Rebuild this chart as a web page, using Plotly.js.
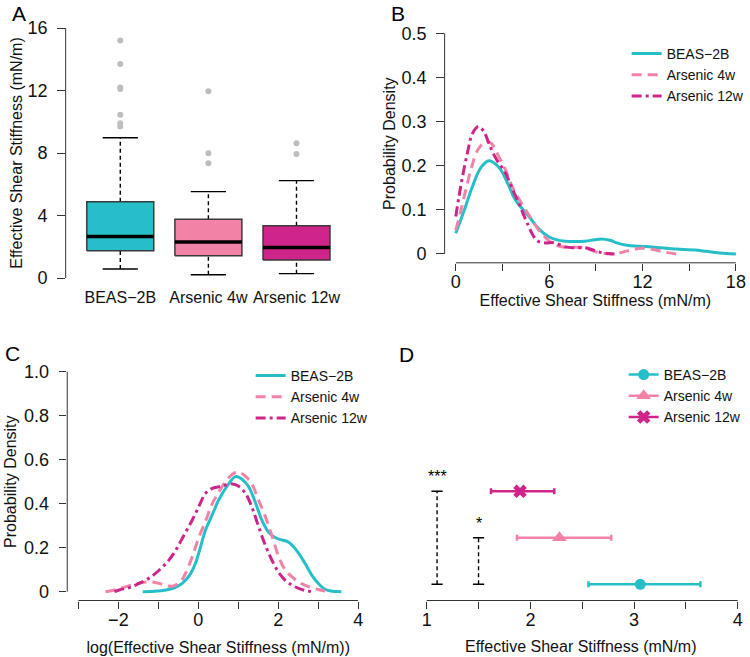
<!DOCTYPE html>
<html>
<head>
<meta charset="utf-8">
<script src="https://cdn.plot.ly/plotly-3.0.1.min.js"></script>
<style>html,body{margin:0;padding:0;background:#fff;}#chart{width:750px;height:657px;}</style>
</head>
<body>
<div id="chart"></div>
<script>
// ---------- data ----------
var groups = ['BEAS\u22122B', 'Arsenic 4w', 'Arsenic 12w'];
var colors = ['#26BFC9', '#F283A7', '#CF2489'];

// Panel A: box plot summary statistics (mN/m)
var boxPos     = [1, 2, 3];
var boxLowW    = [0.58, 0.21, 0.28];
var boxQ1      = [1.75, 1.43, 1.15];
var boxMedian  = [2.65, 2.30, 1.96];
var boxQ3      = [4.88, 3.76, 3.35];
var boxHighW   = [8.98, 5.53, 6.23];
var outBEAS    = [15.2, 13.7, 12.2, 12.1, 10.45, 9.9, 9.7];
var out4w      = [11.95, 7.98, 7.34];
var out12w     = [8.62, 7.94];

// Panel B: density of effective shear stiffness
var bBeasX = [0, 0.5, 1.07, 1.6, 2.13, 2.8, 3.4, 3.84, 4.7, 5.3, 5.97, 6.5, 7.04, 7.7, 8.3, 8.9, 9.38, 9.9, 10.45, 11.0, 11.5, 12.0, 12.6, 13.2, 13.9, 14.6, 15.35, 16.1, 16.8, 17.4, 18];
var bBeasY = [0.047, 0.095, 0.153, 0.195, 0.211, 0.195, 0.155, 0.122, 0.085, 0.058, 0.039, 0.032, 0.029, 0.028, 0.029, 0.032, 0.034, 0.031, 0.024, 0.020, 0.018, 0.017, 0.016, 0.014, 0.012, 0.010, 0.009, 0.006, 0.003, 0.001, 0.0];
var b4wX = [0, 0.3, 0.64, 1.0, 1.4, 1.92, 2.3, 2.77, 3.2, 3.62, 4.05, 4.48, 4.9, 5.33, 5.8, 6.2, 6.6, 7.04, 7.6, 8.1, 8.6, 9.17, 9.6, 10.0, 10.5, 10.9, 11.4, 11.9, 12.4, 13.0, 13.6, 14.2];
var b4wY = [0.054, 0.095, 0.145, 0.195, 0.235, 0.255, 0.25, 0.22, 0.19, 0.153, 0.125, 0.1, 0.077, 0.054, 0.036, 0.024, 0.018, 0.015, 0.015, 0.015, 0.01, 0.003, 0.001, 0.0, 0.002, 0.006, 0.010, 0.013, 0.012, 0.008, 0.003, 0.0];
var b12wX = [0, 0.2, 0.43, 0.75, 1.07, 1.45, 1.8, 2.13, 2.6, 3.2, 3.6, 4.05, 4.4, 4.69, 5.0, 5.33, 5.8, 6.2, 6.6, 7.04, 7.6, 8.3, 8.9, 9.38, 9.8, 10.2];
var b12wY = [0.085, 0.13, 0.175, 0.23, 0.273, 0.289, 0.278, 0.25, 0.215, 0.183, 0.15, 0.115, 0.085, 0.062, 0.04, 0.028, 0.025, 0.026, 0.022, 0.016, 0.014, 0.014, 0.008, 0.003, 0.001, 0.0];

// Panel C: density of log(effective shear stiffness)
var cBeasX = [-1.39, -1.1, -0.81, -0.6, -0.40, -0.2, -0.07, 0.05, 0.18, 0.35, 0.51, 0.72, 0.93, 1.1, 1.26, 1.42, 1.59, 1.76, 1.93, 2.1, 2.26, 2.45, 2.67, 2.84, 3.0, 3.17, 3.35, 3.58];
var cBeasY = [0, 0.002, 0.008, 0.018, 0.038, 0.08, 0.129, 0.2, 0.28, 0.35, 0.417, 0.48, 0.523, 0.51, 0.477, 0.41, 0.326, 0.27, 0.245, 0.235, 0.225, 0.19, 0.129, 0.075, 0.038, 0.011, 0.002, 0];
var c4wX = [-2.32, -2.0, -1.64, -1.4, -1.15, -0.9, -0.65, -0.45, -0.32, -0.15, 0.02, 0.2, 0.35, 0.52, 0.68, 0.83, 0.97, 1.15, 1.34, 1.5, 1.68, 1.85, 2.01, 2.17, 2.34, 2.55, 2.76, 3.0, 3.25];
var c4wY = [0, 0.012, 0.032, 0.042, 0.044, 0.034, 0.025, 0.045, 0.083, 0.16, 0.25, 0.33, 0.40, 0.455, 0.5, 0.53, 0.545, 0.53, 0.49, 0.42, 0.34, 0.25, 0.159, 0.1, 0.068, 0.04, 0.023, 0.01, 0];
var c12wX = [-2.1, -1.98, -1.7, -1.48, -1.2, -0.98, -0.75, -0.56, -0.35, -0.15, 0.02, 0.18, 0.35, 0.51, 0.68, 0.85, 1.0, 1.18, 1.35, 1.51, 1.68, 1.84, 2.0, 2.17, 2.34, 2.51, 2.68, 2.84];
var c12wY = [0, 0.008, 0.02, 0.038, 0.065, 0.098, 0.14, 0.19, 0.26, 0.326, 0.39, 0.447, 0.47, 0.477, 0.485, 0.49, 0.48, 0.447, 0.38, 0.295, 0.21, 0.144, 0.09, 0.053, 0.03, 0.015, 0.005, 0];

// Panel D: mean and confidence interval
var dRow    = [1, 2, 3];
var dMean   = [3.06, 2.28, 1.90];
var dLow    = [2.56, 1.87, 1.62];
var dHigh   = [3.64, 2.78, 2.23];
var dSymbol = ['circle', 'triangle-up', 'x'];
var sigX    = [1.1, 1.5];
var sigFrom = [1, 1];
var sigTo   = [3, 2];
var sigText = ['***', '*'];

// tick labels
var aTickVals = [0, 4, 8, 12, 16];
var bXTicks = [0, 3, 6, 9, 12, 15, 18];
var bXText  = ['0', '', '6', '', '12', '', '18'];
var bYTicks = [0, 0.1, 0.2, 0.3, 0.4, 0.5];
var bYText  = ['0', '0.1', '0.2', '0.3', '0.4', '0.5'];
var cXTicks = [-3, -2, -1, 0, 1, 2, 3, 4];
var cXText  = ['', '\u22122', '', '0', '', '2', '', '4'];
var cYTicks = [0, 0.2, 0.4, 0.6, 0.8, 1.0];
var cYText  = ['0', '0.2', '0.4', '0.6', '0.8', '1.0'];
var dXTicks = [1, 1.5, 2, 2.5, 3, 3.5, 4];
var dXText  = ['1', '', '2', '', '3', '', '4'];

// ---------- traces ----------
var FONT = 'Liberation Sans, Arial, Helvetica, sans-serif';
var AX = '#333333';
var traces = [];
var halfW = 0.38, capW = 0.2;

// Panel A
var outs = [outBEAS, out4w, out12w];
for (var i = 0; i < groups.length; i++) {
  var p = boxPos[i];
  traces.push({x: [p, p], y: [boxQ3[i], boxHighW[i]], xaxis: 'x', yaxis: 'y', mode: 'lines',
    line: {color: '#000', width: 1.4, dash: '4px,3px'}, showlegend: false, hoverinfo: 'skip'});
  traces.push({x: [p, p], y: [boxLowW[i], boxQ1[i]], xaxis: 'x', yaxis: 'y', mode: 'lines',
    line: {color: '#000', width: 1.4, dash: '4px,3px'}, showlegend: false, hoverinfo: 'skip'});
  traces.push({x: [p - capW, p + capW], y: [boxHighW[i], boxHighW[i]], xaxis: 'x', yaxis: 'y', mode: 'lines',
    line: {color: '#000', width: 1.4}, showlegend: false, hoverinfo: 'skip'});
  traces.push({x: [p - capW, p + capW], y: [boxLowW[i], boxLowW[i]], xaxis: 'x', yaxis: 'y', mode: 'lines',
    line: {color: '#000', width: 1.4}, showlegend: false, hoverinfo: 'skip'});
  traces.push({x: [p - halfW, p + halfW, p + halfW, p - halfW, p - halfW],
    y: [boxQ1[i], boxQ1[i], boxQ3[i], boxQ3[i], boxQ1[i]], xaxis: 'x', yaxis: 'y',
    mode: 'lines', fill: 'toself', fillcolor: colors[i], line: {color: '#3a3a3a', width: 1.5},
    showlegend: false, name: groups[i]});
  traces.push({x: [p - halfW, p + halfW], y: [boxMedian[i], boxMedian[i]], xaxis: 'x', yaxis: 'y',
    mode: 'lines', line: {color: '#000', width: 3.5}, showlegend: false, hoverinfo: 'skip'});
  traces.push({x: outs[i].map(function () { return p; }), y: outs[i], xaxis: 'x', yaxis: 'y',
    mode: 'markers', marker: {color: '#BEBEBE', size: 6}, showlegend: false});
}

// Panels B and C
var dashes = ['solid', '10px,6px', '10px,4px,3px,4px'];
var bX = [bBeasX, b4wX, b12wX], bY = [bBeasY, b4wY, b12wY];
var cX = [cBeasX, c4wX, c12wX], cY = [cBeasY, c4wY, c12wY];
for (var j = 0; j < 3; j++) {
  traces.push({x: bX[j], y: bY[j], xaxis: 'x2', yaxis: 'y2', mode: 'lines', name: groups[j],
    line: {color: colors[j], width: 3, dash: dashes[j], shape: 'spline', smoothing: 1},
    legend: 'legend'});
}
for (var k = 0; k < 3; k++) {
  traces.push({x: cX[k], y: cY[k], xaxis: 'x3', yaxis: 'y3', mode: 'lines', name: groups[k],
    line: {color: colors[k], width: 3, dash: dashes[k], shape: 'spline', smoothing: 1},
    legend: 'legend2'});
}

// Panel D significance lines
for (var s = 0; s < sigX.length; s++) {
  traces.push({x: [sigX[s], sigX[s]], y: [sigFrom[s], sigTo[s]], xaxis: 'x4', yaxis: 'y4',
    mode: 'lines+markers', line: {color: '#000', width: 1.4, dash: '4px,3px'},
    marker: {symbol: 'line-ew', size: 8, line: {color: '#000', width: 1.4}},
    showlegend: false, hoverinfo: 'skip'});
}
// Panel D means with intervals
for (var m = 0; m < 3; m++) {
  traces.push({x: [dMean[m]], y: [dRow[m]], xaxis: 'x4', yaxis: 'y4', mode: 'lines+markers',
    name: groups[m], legend: 'legend3',
    line: {color: colors[m], width: 2.5},
    marker: {color: colors[m], symbol: dSymbol[m], size: dSymbol[m] === 'triangle-up' ? 13 : (dSymbol[m] === 'x' ? 12 : 11)},
    error_x: {type: 'data', symmetric: false, array: [dHigh[m] - dMean[m]], arrayminus: [dMean[m] - dLow[m]],
      color: colors[m], thickness: 2.5, width: 3}});
}

// ---------- layout ----------
function ax(extra) {
  var base = {showgrid: false, zeroline: false, showline: false, ticks: 'outside', ticklen: 7.5,
    tickcolor: AX, tickwidth: 1, tickfont: {family: FONT, size: 18, color: '#111'},
    ticklabelstandoff: -5, fixedrange: true};
  for (var key in extra) base[key] = extra[key];
  return base;
}
var titleFont = {family: FONT, size: 16, color: '#111'};

var annotations = [
  {text: 'A', x: 10 / 750, y: 1 - 0 / 657, xref: 'paper', yref: 'paper', xanchor: 'left', yanchor: 'top', showarrow: false, font: {family: FONT, size: 21, color: '#000'}},
  {text: 'B', x: 391 / 750, y: 1 - 0 / 657, xref: 'paper', yref: 'paper', xanchor: 'left', yanchor: 'top', showarrow: false, font: {family: FONT, size: 21, color: '#000'}},
  {text: 'C', x: 3 / 750, y: 1 - 340 / 657, xref: 'paper', yref: 'paper', xanchor: 'left', yanchor: 'top', showarrow: false, font: {family: FONT, size: 21, color: '#000'}},
  {text: 'D', x: 399 / 750, y: 1 - 341 / 657, xref: 'paper', yref: 'paper', xanchor: 'left', yanchor: 'top', showarrow: false, font: {family: FONT, size: 21, color: '#000'}},
  // x-axis title of panel D
  {text: 'Effective Shear Stiffness (mN/m)', x: 0.5, y: 1 - 646 / 657, xref: 'x4 domain', yref: 'paper',
    xanchor: 'center', yanchor: 'middle', showarrow: false, font: titleFont}
];
for (var t = 0; t < sigX.length; t++) {
  annotations.push({text: sigText[t], x: sigX[t], y: sigTo[t], xref: 'x4', yref: 'y4', yanchor: 'bottom',
    yshift: 4, showarrow: false, font: {family: FONT, size: 16, color: '#000'}});
}

var shapes = [
  {type: 'line', xref: 'x domain', yref: 'y', x0: 0, x1: 0, y0: 0, y1: 16, line: {color: AX, width: 1}},
  {type: 'line', xref: 'x2 domain', yref: 'y2', x0: 0, x1: 0, y0: 0, y1: 0.5, line: {color: AX, width: 1}},
  {type: 'line', xref: 'x2', yref: 'y2 domain', x0: 0, x1: 18, y0: 0, y1: 0, line: {color: AX, width: 1}},
  {type: 'line', xref: 'x3 domain', yref: 'y3', x0: 0, x1: 0, y0: 0, y1: 1, line: {color: AX, width: 1}},
  {type: 'line', xref: 'x3', yref: 'y3 domain', x0: -3, x1: 4, y0: 0, y1: 0, line: {color: AX, width: 1}},
  {type: 'line', xref: 'x4', yref: 'y4 domain', x0: 1, x1: 4, y0: 0, y1: 0, line: {color: AX, width: 1}}
];

var legendBase = {bgcolor: 'rgba(0,0,0,0)', borderwidth: 0, font: {family: FONT, size: 14, color: '#111'},
  xanchor: 'left', yanchor: 'top', tracegroupgap: 0, itemclick: false, itemdoubleclick: false};
function leg(x, y) { var o = {}; for (var k in legendBase) o[k] = legendBase[k]; o.x = x; o.y = y; return o; }

var layout = {
  width: 750, height: 657,
  margin: {l: 0, r: 0, t: 0, b: 0},
  paper_bgcolor: '#fff', plot_bgcolor: '#fff',
  font: {family: FONT, color: '#111'},
  showlegend: true,
  legend: leg(630 / 750, 1 - 38 / 657),
  legend2: leg(252 / 750, 1 - 360 / 657),
  legend3: leg(627 / 750, 1 - 359 / 657),
  xaxis: ax({domain: [66 / 750, 353 / 750], range: [0.38, 3.62], ticks: '', tickvals: boxPos, ticktext: groups,
    tickfont: {family: FONT, size: 16, color: '#111'}, ticklabelstandoff: -2, anchor: 'y'}),
  yaxis: ax({domain: [1 - 288 / 657, 1 - 18 / 657], range: [-0.64, 16.64], tickvals: aTickVals, anchor: 'x',
    ticklabelstandoff: 6,
    title: {text: 'Effective Shear Stiffness (mN/m)', font: titleFont, standoff: 0}}),
  xaxis2: ax({domain: [447 / 750, 1], range: [-0.72, 18.65], tickvals: bXTicks, ticktext: bXText, anchor: 'y2',
    title: {text: 'Effective Shear Stiffness (mN/m)', font: titleFont, standoff: 0}}),
  yaxis2: ax({domain: [1 - 262.8 / 657, 1 - 24.5 / 657], range: [-0.02, 0.52], tickvals: bYTicks, ticktext: bYText, anchor: 'x2',
    ticklabelstandoff: 6,
    title: {text: 'Probability Density', font: titleFont, standoff: 1}}),
  xaxis3: ax({domain: [67.6 / 750, 371.3 / 750], range: [-3.28, 4.28], tickvals: cXTicks, ticktext: cXText, anchor: 'y3',
    title: {text: 'log(Effective Shear Stiffness (mN/m))', font: titleFont, standoff: 13}}),
  yaxis3: ax({domain: [1 - 600.5 / 657, 1 - 362.9 / 657], range: [-0.04, 1.04], tickvals: cYTicks, ticktext: cYText, anchor: 'x3',
    ticklabelstandoff: 6,
    title: {text: 'Probability Density', font: titleFont, standoff: 3}}),
  xaxis4: ax({domain: [416.5 / 750, 1], range: [0.88, 4.08], tickvals: dXTicks, ticktext: dXText, anchor: 'y4'}),
  yaxis4: ax({domain: [1 - 600.5 / 657, 1 - 362.9 / 657], range: [0.652, 5.76], showticklabels: false, ticks: '', anchor: 'x4'}),
  annotations: annotations,
  shapes: shapes
};

Plotly.newPlot('chart', traces, layout, {displayModeBar: false, staticPlot: true});
</script>
</body>
</html>
